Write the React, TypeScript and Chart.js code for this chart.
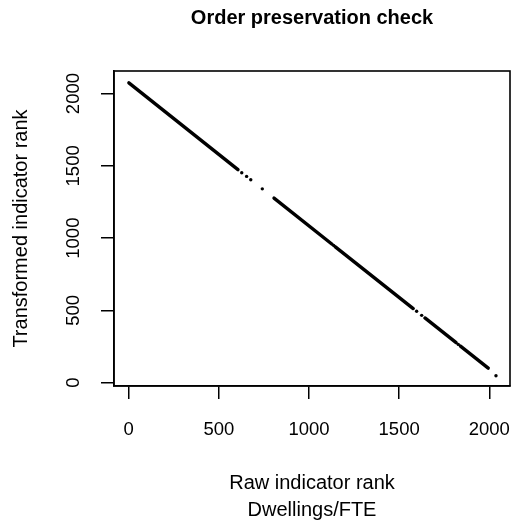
import React, { useEffect, useRef } from 'react';
import { Chart, registerables } from 'chart.js';

Chart.register(...registerables);

// Continuous runs of (raw rank, transformed rank); null separates runs
const runRawRank = [1, 606, null, 806, 1128, null, 1146, 1578, null, 1643, 1816, null, 1840, 1994];
const runTransformedRank = [2074, 1474, null, 1277, 958, null, 940, 513, null, 448, 277, null, 253, 101];
// Isolated points between runs
const dotRawRank = [627, 654, 677, 741, 1137, 1597, 1625, 1828, 2037];
const dotTransformedRank = [1452, 1427, 1404, 1341, 949, 494, 466, 265, 48];

const xTickValues = [0, 500, 1000, 1500, 2000];
const yTickValues = [0, 500, 1000, 1500, 2000];

const titleText = 'Order preservation check';
const xTitle = ['Raw indicator rank', 'Dwellings/FTE'];
const yTitle = 'Transformed indicator rank';

const FONT = '"Liberation Sans", Arial, Helvetica, sans-serif';

export default function App() {
  const ref = useRef<HTMLCanvasElement | null>(null);

  useEffect(() => {
    if (!ref.current) return;
    const runData = runRawRank.map((x, i) => ({ x: x, y: runTransformedRank[i] }));
    const dotData = dotRawRank.map((x, i) => ({ x, y: dotTransformedRank[i] }));

    const boxPlugin = {
      id: 'rbox',
      afterDraw(chart: any) {
        const { ctx, chartArea } = chart;
        ctx.save();
        ctx.strokeStyle = '#000';
        ctx.lineWidth = 1.6;
        ctx.strokeRect(chartArea.left, chartArea.top, chartArea.right - chartArea.left, chartArea.bottom - chartArea.top);
        ctx.fillStyle = '#000';
        ctx.font = `bold 20px ${FONT}`;
        ctx.textAlign = 'center';
        ctx.textBaseline = 'alphabetic';
        ctx.fillText(titleText, (chartArea.left + chartArea.right) / 2, 24);
        ctx.restore();
      },
    };

    const plain = (v: any) => String(v);

    const chart = new Chart(ref.current, {
      type: 'scatter',
      data: {
        datasets: [
          {
            data: runData as any,
            showLine: true,
            spanGaps: false,
            borderColor: '#000',
            backgroundColor: '#000',
            borderWidth: 3.4,
            borderCapStyle: 'round',
            pointRadius: 0,
            pointHoverRadius: 0,
          },
          {
            data: dotData,
            showLine: false,
            backgroundColor: '#000',
            borderColor: '#000',
            borderWidth: 0,
            pointRadius: 1.7,
          },
        ],
      },
      plugins: [boxPlugin],
      options: {
        animation: false,
        responsive: false,
        devicePixelRatio: 1,
        layout: { padding: { left: 0, top: 71, right: 4, bottom: 1.5 } },
        plugins: { legend: { display: false }, tooltip: { enabled: false }, title: { display: false } },
        scales: {
          x: {
            type: 'linear',
            position: 'bottom',
            min: -81.5,
            max: 2114.8,
            afterBuildTicks: (s: any) => {
              s.ticks = xTickValues.map((v) => ({ value: v }));
            },
            afterFit: (s: any) => {
              s.height = 137.5;
              s.paddingLeft = 0;
              s.paddingRight = 0;
            },
            grid: { drawOnChartArea: false, drawTicks: true, tickLength: 13, color: '#000', lineWidth: 1.5 },
            border: { display: true, color: '#000', width: 1.6 },
            ticks: {
              color: '#000',
              font: { family: FONT, size: 18.5 },
              padding: 20,
              maxRotation: 0,
              minRotation: 0,
              autoSkip: false,
              callback: plain,
            },
            title: {
              display: true,
              text: xTitle,
              color: '#000',
              font: { family: FONT, size: 20, lineHeight: 1.35 },
              padding: { top: 0, bottom: 0 },
            },
          },
          y: {
            type: 'linear',
            position: 'left',
            min: -22.8,
            max: 2156.2,
            afterBuildTicks: (s: any) => {
              s.ticks = yTickValues.map((v) => ({ value: v }));
            },
            afterFit: (s: any) => {
              s.width = 114;
              s.paddingTop = 0;
              s.paddingBottom = 0;
            },
            grid: { drawOnChartArea: false, drawTicks: true, tickLength: 13, color: '#000', lineWidth: 1.5 },
            border: { display: true, color: '#000', width: 1.6 },
            ticks: {
              color: '#000',
              font: { family: FONT, size: 18.5 },
              padding: 6.4,
              minRotation: 90,
              maxRotation: 90,
              crossAlign: 'center',
              autoSkip: false,
              callback: plain,
            },
            title: {
              display: true,
              text: yTitle,
              color: '#000',
              font: { family: FONT, size: 20, lineHeight: 1.2 },
              padding: { top: 9.7, bottom: 0 },
            },
          },
        },
      } as any,
    });
    return () => chart.destroy();
  }, []);

  return (
    <div style={{ position: 'fixed', left: 0, top: 0, width: 514, height: 525, background: '#fff' }}>
      <canvas ref={ref} width={514} height={525} style={{ display: 'block' }} />
    </div>
  );
}
